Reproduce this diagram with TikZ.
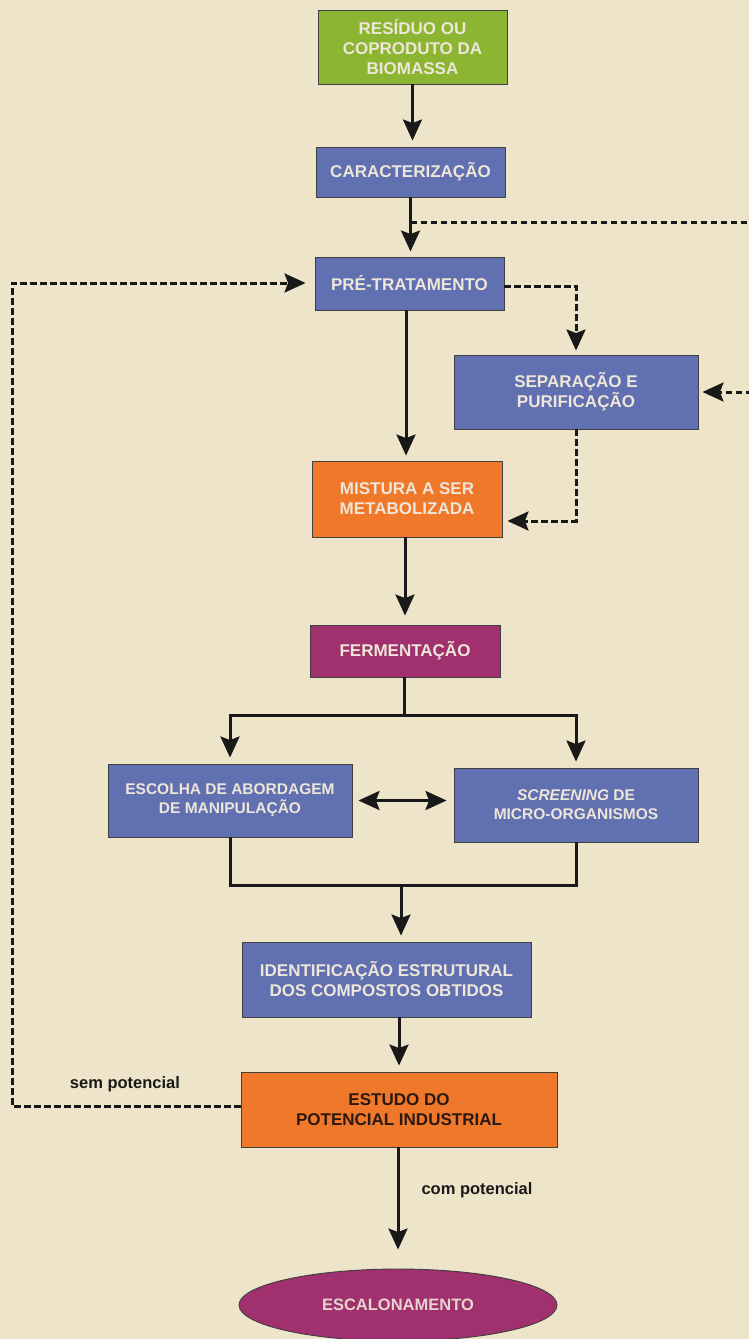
\documentclass[tikz,border=0pt]{standalone}
\usepackage{fontspec}
\setmainfont{Liberation Sans}
\usetikzlibrary{arrows.meta,shapes.geometric,calc}
\definecolor{bg}{HTML}{EEE4CA}
\definecolor{cgreen}{HTML}{8CB532}
\definecolor{cblue}{HTML}{6170B0}
\definecolor{corange}{HTML}{F0782A}
\definecolor{cpurple}{HTML}{A0306E}
\definecolor{ctxt}{HTML}{EEE6D8}
\definecolor{cdark}{HTML}{2A1A12}
\tikzset{
  box/.style={draw=black!75, line width=0.9pt, inner sep=0pt, align=center, text=ctxt,
    font=\bfseries\fontsize{17}{20}\selectfont},
  smallbox/.style={box, font=\bfseries\fontsize{15.5}{19}\selectfont},
  tip/.tip={Stealth[length=21pt,width=19pt,inset=3.5pt]},
  conn/.style={line width=3pt, draw=black!90, -tip},
  plainconn/.style={line width=3pt, draw=black!90},
  dconn/.style={line width=3pt, draw=black!90, dash pattern=on 6.5pt off 3.5pt},
  dtip/.style={-tip},
  lbl/.style={font=\bfseries\fontsize{16.5}{19}\selectfont, text=black!90, inner sep=0pt}
}
\begin{document}
\begin{tikzpicture}[x=1pt,y=-1pt]
\fill[bg] (0,0) rectangle (749,1339);
\useasboundingbox (0,0) rectangle (749,1339);

\node[box, fill=cgreen, minimum width=189pt, minimum height=74pt] (res) at (412.5,47) {RESÍDUO OU\\COPRODUTO DA\\BIOMASSA};
\node[box, fill=cblue, minimum width=189pt, minimum height=50pt] (car) at (410.5,172) {CARACTERIZAÇÃO};
\node[box, fill=cblue, minimum width=189pt, minimum height=53pt] (pre) at (409.5,283.5) {PRÉ-TRATAMENTO};
\node[box, fill=cblue, minimum width=244pt, minimum height=74pt] (sep) at (576,392) {SEPARAÇÃO E\\PURIFICAÇÃO};
\node[box, fill=corange, minimum width=190pt, minimum height=76pt] (mis) at (407,499) {MISTURA A SER\\METABOLIZADA};
\node[box, fill=cpurple, minimum width=190pt, minimum height=52pt] (fer) at (405,651) {FERMENTAÇÃO};
\node[smallbox, fill=cblue, minimum width=244pt, minimum height=73pt] (esc) at (230,800.5) {ESCOLHA DE ABORDAGEM\\DE MANIPULAÇÃO};
\node[smallbox, fill=cblue, minimum width=244pt, minimum height=74pt] (scr) at (576,805) {\textit{SCREENING} DE\\MICRO-ORGANISMOS};
\node[box, fill=cblue, minimum width=289pt, minimum height=75pt] (ide) at (386.5,979.5) {IDENTIFICAÇÃO ESTRUTURAL\\DOS COMPOSTOS OBTIDOS};
\node[box, fill=corange, text=cdark, minimum width=316pt, minimum height=75pt] (est) at (399,1109.5) {ESTUDO DO\\POTENCIAL INDUSTRIAL};
\node[ellipse, draw=black!75, line width=0.9pt, fill=cpurple, text=ctxt!90!cpurple, inner sep=0pt,
  minimum width=318pt, minimum height=72pt, font=\bfseries\fontsize{16.5}{20}\selectfont] (escal) at (398,1305) {ESCALONAMENTO};

% solid main flow
\draw[conn, shorten >=6pt] (res.south) -- (res.south |- car.north);
\draw[conn, shorten >=5pt] (car.south) -- (car.south |- pre.north);
\draw[conn, shorten >=5pt] (pre.south -| 406,0) -- (mis.north -| 406,0);
\draw[conn, shorten >=9pt] (mis.south -| 405,0) -- (fer.north -| 405,0);

% dashed from caracterizacao to the right edge and back to separacao
\coordinate (d1) at (410.5,222);
\coordinate (rt) at (762,222);
\coordinate (rb) at (762,392);
\draw[dconn] (d1) -- (rt) -- (rb);
\draw[dconn, dtip, shorten >=4pt] (rb) -- (sep.east);

% pre-tratamento -> separacao
\draw[dconn, dtip, shorten >=4pt] ([yshift=-2.5pt]pre.east) -| (sep.north);
% separacao -> mistura
\draw[dconn, dtip, shorten >=5pt] (sep.south) |- ([yshift=-22pt]mis.east);

% fermentacao split
\coordinate (fj) at (404,715);
\draw[plainconn] (fer.south -| fj) -- (fj);
\draw[conn, shorten >=6pt] (fj) -| (esc.north);
\draw[conn, shorten >=6pt] (fj) -| (scr.north);

% double arrow
\draw[line width=3pt, draw=black!90, tip-tip, shorten <=6pt, shorten >=7pt]
  (esc.east) -- (esc.east -| scr.west);

% join
\coordinate (jn) at (401,885);
\draw[plainconn] (esc.south) |- (jn) -| (scr.south);
\draw[conn, shorten >=6pt] (jn) -- (jn |- ide.north);

\draw[conn, shorten >=6pt] (ide.south -| est.north) -- (est.north);
\draw[conn, shorten >=19pt] (est.south -| escal.north) -- (escal.north);
\node[lbl] (com) at (477,1190) {com potencial};

% sem potencial loop
\coordinate (lb) at (12,1106);
\coordinate (lt) at (12,283);
\draw[dconn, dtip, shorten >=9pt] (est.west |- lb) -- (lb) -- (lt) -- (pre.west |- lt);
\node[lbl] (sem) at (125,1084) {sem potencial};
\end{tikzpicture}
\end{document}
